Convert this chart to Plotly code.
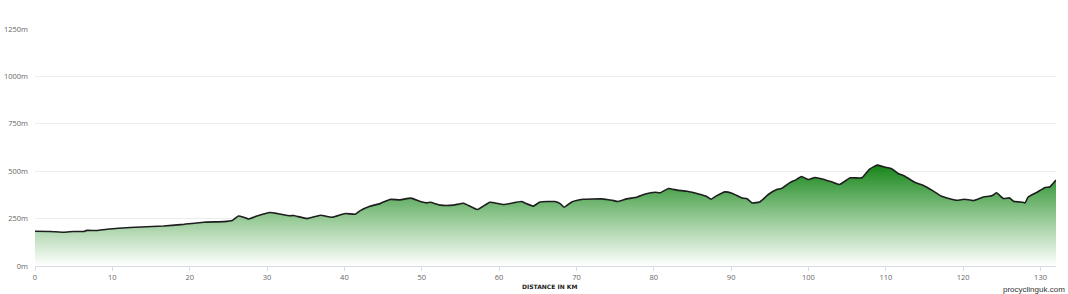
import plotly.graph_objects as go

distance_km = [0, 2, 3.7, 5, 6.3, 6.7, 8, 9.3, 12.3, 16.6, 18.8, 21.8, 24.4, 25.5,
               26.3, 27, 27.6, 28.7, 30.4, 31.3, 33, 33.4, 35.2, 36.9, 38.4, 40.1,
               41.4, 42, 43.3, 44.6, 45.9, 47.2, 48.6, 49.8, 50.7, 51.1, 52.4, 54.1,
               55.4, 57.2, 58.8, 60.6, 62.9, 63.4, 64.4, 65.3, 67.2, 67.9, 68.4, 69.4,
               70.9, 73.3, 73.9, 74.6, 75.4, 76.5, 77.8, 78.9, 80.2, 80.8, 81.9, 83,
               84.3, 85.8, 86.8, 87.4, 88.1, 89.2, 90.1, 91.4, 92, 92.7, 93.7, 94.8,
               95.9, 96.5, 97.6, 98.3, 99.1, 100, 100.8, 101.9, 103, 104, 105.4,
               106.9, 107.9, 108.9, 109.7, 110.7, 111.6, 112.4, 113.8, 114.8, 116.1,
               117.2, 119.1, 120.2, 121.3, 122.6, 123.7, 124.3, 125.2, 126, 126.5,
               127.7, 128, 128.4, 129.5, 130.6, 131.2, 132]
elevation_m = [183, 182, 178, 182, 182, 188, 187, 194, 203, 211, 218, 231, 234, 240,
               264, 257, 248, 264, 282, 277, 265, 266, 250, 268, 257, 277,
               273, 291, 315, 329, 351, 349, 358, 340, 333, 336, 321, 321,
               331, 298, 336, 324, 340, 331, 316, 337, 340, 329, 310, 338,
               352, 354, 351, 347, 340, 354, 363, 380, 389, 386, 409, 400,
               394, 380, 368, 352, 370, 391, 384, 359, 356, 333, 338, 377,
               403, 409, 440, 453, 472, 456, 467, 458, 444, 430, 465,
               465, 511, 532, 523, 514, 488, 475, 440, 426, 396,
               368, 347, 352, 345, 364, 370, 386, 356, 359, 342,
               336, 333, 364, 388, 414, 417, 453]

x_ticks = [0, 10, 20, 30, 40, 50, 60, 70, 80, 90, 100, 110, 120, 130]
y_ticks = [0, 250, 500, 750, 1000, 1250]
y_tick_labels = ["0m", "250m", "500m", "750m", "1000m", "1250m"]

fig = go.Figure()
fig.add_trace(go.Scatter(
    x=distance_km, y=elevation_m,
    mode="lines",
    line=dict(color="#1e1e1e", width=1.6, shape="spline", smoothing=0.4),
    fill="tozeroy",
    fillgradient=dict(type="vertical", start=0, stop=max(elevation_m),
                      colorscale=[[0, "#ffffff"], [0.5, "#8fc68f"], [1, "#17861a"]]),
    hoverinfo="skip",
    showlegend=False,
))

fig.update_layout(
    width=1068, height=294,
    margin=dict(l=35, r=12, t=29, b=28, autoexpand=False),
    paper_bgcolor="#ffffff", plot_bgcolor="#ffffff",
    font=dict(family="Open Sans, Verdana, sans-serif", color="#666666", size=7.5),
    xaxis=dict(
        range=[0, 132], tickvals=x_ticks, ticktext=[str(v) for v in x_ticks],
        showgrid=False, zeroline=False, automargin=False,
        showline=True, linecolor="#d8dce8", linewidth=1,
        ticks="outside", ticklen=4, tickcolor="#d8dce8", tickwidth=1,
        tickfont=dict(size=7.5, color="#666666"),
        fixedrange=True,
    ),
    yaxis=dict(
        range=[0, 1250], tickvals=y_ticks, ticktext=y_tick_labels,
        showgrid=True, gridcolor="#ececec", gridwidth=1,
        zeroline=False, showline=False, automargin=False,
        ticks="", tickfont=dict(size=7.5, color="#666666"),
        ticklabelstandoff=6,
        fixedrange=True,
    ),
    annotations=[
        dict(text="<b>DISTANCE IN KM</b>", xref="paper", yref="paper",
             x=0.5, y=-0.085, xanchor="center", yanchor="middle", xshift=4,
             showarrow=False, font=dict(size=6, color="#222222",
                                        family="Verdana, DejaVu Sans, sans-serif")),
        dict(text="procyclinguk.com", xref="paper", yref="paper",
             x=1.0, y=-0.098, xanchor="right", yanchor="middle", xshift=11,
             showarrow=False, font=dict(size=8, color="#333333",
                                        family="Liberation Sans Narrow, Liberation Sans, Arial, sans-serif")),
    ],
)

fig.write_html("out.html")
